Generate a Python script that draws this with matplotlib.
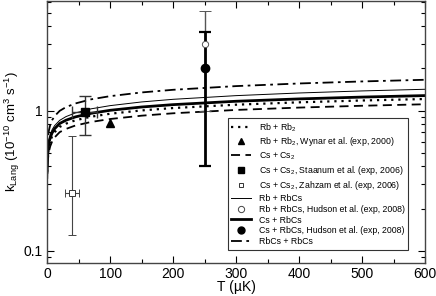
import matplotlib
matplotlib.use("Agg")
import matplotlib.pyplot as plt
from matplotlib.lines import Line2D

plt.rcParams['font.family'] = ['Liberation Sans', 'DejaVu Sans']
plt.rcParams['mathtext.fontset'] = 'custom'
plt.rcParams['mathtext.rm'] = 'Liberation Sans'
plt.rcParams['mathtext.it'] = 'Liberation Sans:italic'

# --- Langevin curves ---
T = [0.2, 0.5, 1, 2, 3, 5, 8, 12, 20, 30, 45, 70, 100, 150, 200, 300, 400, 500, 600]
k_rb_rb2 = [0.355, 0.414, 0.464, 0.521, 0.558, 0.607, 0.656, 0.702, 0.765, 0.807,
            0.853, 0.905, 0.950, 1.003, 1.043, 1.102, 1.146, 1.181, 1.21]
k_cs_cs2 = [0.326, 0.380, 0.426, 0.478, 0.512, 0.557, 0.602, 0.644, 0.702, 0.740,
            0.783, 0.830, 0.871, 0.920, 0.957, 1.011, 1.051, 1.083, 1.11]
k_rb_rbcs = [0.395, 0.461, 0.517, 0.580, 0.621, 0.676, 0.731, 0.782, 0.852, 0.906,
             0.963, 1.030, 1.085, 1.153, 1.204, 1.279, 1.336, 1.382, 1.42]
k_cs_rbcs = [0.375, 0.438, 0.491, 0.551, 0.590, 0.642, 0.694, 0.743, 0.809, 0.854,
             0.902, 0.957, 1.005, 1.061, 1.103, 1.166, 1.212, 1.249, 1.28]
k_rbcs_rbcs = [0.462, 0.539, 0.605, 0.678, 0.726, 0.791, 0.855, 0.914, 0.996, 1.059,
               1.125, 1.204, 1.268, 1.348, 1.408, 1.496, 1.562, 1.615, 1.66]

# --- Experimental points ---
wynar_T, wynar_k = [100], [0.81]
staanum_T, staanum_k = [60], [0.97]
staanum_xerr, staanum_yerr = [20], [[0.30], [0.30]]
zahzam_T, zahzam_k = [40], [0.26]
zahzam_xerr, zahzam_yerr = [11], [[0.13], [0.40]]
hud_rb_T, hud_rb_k = [250], [3.0]
hud_rb_yerr = [[2.0], [2.1]]
hud_cs_T, hud_cs_k = [250], [2.0]
hud_cs_yerr = [[1.6], [1.65]]

labels = ['Rb + Rb$_2$', 'Rb + Rb$_2$, Wynar et al. (exp, 2000)',
          'Cs + Cs$_2$', 'Cs + Cs$_2$, Staanum et al. (exp, 2006)',
          'Cs + Cs$_2$, Zahzam et al. (exp, 2006)',
          'Rb + RbCs', 'Rb + RbCs, Hudson et al. (exp, 2008)',
          'Cs + RbCs', 'Cs + RbCs, Hudson et al. (exp, 2008)',
          'RbCs + RbCs']

fig = plt.figure(figsize=(4.36, 2.96), dpi=100)
ax = fig.add_axes([0.108, 0.1115, 0.867, 0.8855])

dotted = dict(color='black', ls=(0, (1, 2.2)), lw=1.6)
dashed = dict(color='black', ls=(0, (5, 3)), lw=1.3)
thin = dict(color='black', ls='-', lw=0.7)
thick = dict(color='black', ls='-', lw=2.0)
dashdot = dict(color='black', ls=(0, (6, 2.5, 1.5, 2.5)), lw=1.3)

ax.plot(T, k_rb_rb2, **dotted)
ax.plot(T, k_cs_cs2, **dashed)
ax.plot(T, k_rb_rbcs, **thin)
ax.plot(T, k_cs_rbcs, **thick)
ax.plot(T, k_rbcs_rbcs, **dashdot)

ax.plot(wynar_T, wynar_k, ls='none', marker='^', ms=6, color='black')
ax.errorbar(staanum_T, staanum_k, xerr=staanum_xerr, yerr=staanum_yerr, fmt='s',
            ms=5.5, color='black', ecolor='#333333', elinewidth=1.0, capsize=4,
            capthick=1.0)
ax.errorbar(zahzam_T, zahzam_k, xerr=zahzam_xerr, yerr=zahzam_yerr, fmt='s',
            ms=4, mfc='white', mec='#333333', mew=0.7, ecolor='#444444',
            elinewidth=0.8, capsize=3, capthick=0.8)
ax.errorbar(hud_rb_T, hud_rb_k, yerr=hud_rb_yerr, fmt='o', ms=4.5, mfc='white',
            mec='#555555', mew=0.7, ecolor='#555555', elinewidth=1.0, capsize=4,
            capthick=1.0)
ax.errorbar(hud_cs_T, hud_cs_k, yerr=hud_cs_yerr, fmt='o', ms=6, color='black',
            ecolor='black', elinewidth=2.0, capsize=4, capthick=1.6)

handles = [
    Line2D([], [], **dotted),
    Line2D([], [], ls='none', marker='^', ms=5, color='black'),
    Line2D([], [], **dashed),
    Line2D([], [], ls='none', marker='s', ms=4, color='black'),
    Line2D([], [], ls='none', marker='s', ms=3.5, mfc='white', mec='#333333', mew=0.7),
    Line2D([], [], **thin),
    Line2D([], [], ls='none', marker='o', ms=4.5, mfc='white', mec='#444444', mew=0.7),
    Line2D([], [], **thick),
    Line2D([], [], ls='none', marker='o', ms=5, color='black'),
    Line2D([], [], **dashdot),
]

ax.set_yscale('log')
ax.set_xlim(0, 600)
ax.set_ylim(0.0817, 6.07)
ax.set_xticks([0, 100, 200, 300, 400, 500, 600])
ax.set_xticks(range(50, 600, 100), minor=True)
ax.set_yticks([0.1, 1])
ax.set_yticklabels(['0.1', '1'])
ax.tick_params(which='both', direction='in', top=True, right=True, labelsize=10)
ax.tick_params(which='major', length=5, width=0.8)
ax.tick_params(which='minor', length=3, width=0.8)
ax.tick_params(axis='x', pad=3)
for s in ax.spines.values():
    s.set_linewidth(1.0)
    s.set_color('#444444')

ax.set_xlabel('T (µK)', fontsize=10, labelpad=-1)
ax.set_ylabel('k$_{\\rm Lang}$ (10$^{-10}$ cm$^3$ s$^{-1}$)', fontsize=9.5, labelpad=1)

leg = ax.legend(handles, labels, loc='lower right', bbox_to_anchor=(0.955, 0.05),
                borderaxespad=0, fontsize=6.3, frameon=True, fancybox=False,
                edgecolor='black', handlelength=2.2, labelspacing=0.22,
                borderpad=0.4, handletextpad=0.9, numpoints=1)
leg.get_frame().set_linewidth(0.8)

fig.savefig('out.png', dpi=100)
